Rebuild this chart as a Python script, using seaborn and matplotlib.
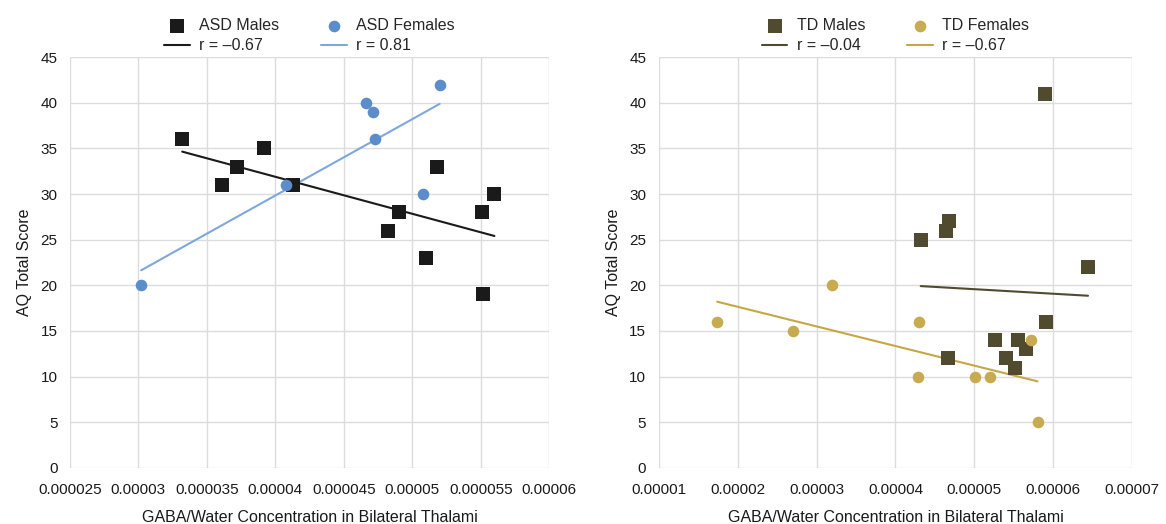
import seaborn as sns
import matplotlib.pyplot as plt

# ASD group (left panel)
asd_male_gaba = [0.0000332, 0.0000361, 0.0000372, 0.0000392, 0.0000413, 0.0000482,
                 0.0000490, 0.0000510, 0.0000518, 0.0000551, 0.0000552, 0.0000560]
asd_male_aq = [36, 31, 33, 35, 31, 26, 28, 23, 33, 28, 19, 30]
asd_female_gaba = [0.0000302, 0.0000408, 0.0000466, 0.0000471, 0.0000473, 0.0000508, 0.0000520]
asd_female_aq = [20, 31, 40, 39, 36, 30, 42]

# TD group (right panel)
td_male_gaba = [0.0000432, 0.0000464, 0.0000466, 0.0000468, 0.0000526, 0.0000540,
                0.0000552, 0.0000555, 0.0000566, 0.0000589, 0.0000591, 0.0000644]
td_male_aq = [25, 26, 12, 27, 14, 12, 11, 14, 13, 41, 16, 22]
td_female_gaba = [0.0000174, 0.0000270, 0.0000319, 0.0000428, 0.0000430, 0.0000501,
                  0.0000520, 0.0000572, 0.0000580]
td_female_aq = [16, 15, 20, 10, 16, 10, 10, 14, 5]

left_xticks = [0.000025, 0.00003, 0.000035, 0.00004, 0.000045, 0.00005, 0.000055, 0.00006]
left_xlabels = ['0.000025', '0.00003', '0.000035', '0.00004', '0.000045', '0.00005', '0.000055', '0.00006']
right_xticks = [0.00001, 0.00002, 0.00003, 0.00004, 0.00005, 0.00006, 0.00007]
right_xlabels = ['0.00001', '0.00002', '0.00003', '0.00004', '0.00005', '0.00006', '0.00007']
yticks = [0, 5, 10, 15, 20, 25, 30, 35, 40, 45]

sns.set_theme(style="whitegrid")
plt.rcParams['font.family'] = ['Liberation Sans', 'DejaVu Sans']

fig = plt.figure(figsize=(11.66, 5.24), dpi=100)
ax1 = fig.add_axes([0.060, 0.107, 0.411, 0.784])
ax2 = fig.add_axes([0.565, 0.107, 0.406, 0.784])


def panel(ax, mx, my, fx, fy, mcol, fcol, flinecol, names, rlabels, xticks, xlabels):
    sns.scatterplot(x=mx, y=my, ax=ax, marker='s', s=95, color=mcol, linewidth=0,
                    label=names[0], zorder=3)
    sns.scatterplot(x=fx, y=fy, ax=ax, marker='o', s=70, color=fcol, linewidth=0,
                    label=names[1], zorder=3)
    sns.regplot(x=mx, y=my, ax=ax, scatter=False, ci=None, color=mcol,
                line_kws={'linewidth': 1.5, 'zorder': 2}, label=rlabels[0])
    sns.regplot(x=fx, y=fy, ax=ax, scatter=False, ci=None, color=flinecol,
                line_kws={'linewidth': 1.5, 'zorder': 2}, label=rlabels[1])

    ax.set_xlim(xticks[0], xticks[-1])
    ax.set_ylim(0, 45)
    ax.set_xticks(xticks)
    ax.set_xticklabels(xlabels)
    ax.set_yticks(yticks)
    ax.tick_params(labelsize=11, length=0, colors='#1a1a1a')
    ax.tick_params(axis='x', pad=11)
    ax.tick_params(axis='y', pad=9)
    ax.grid(True, color='#dcdcdc', linewidth=1)
    for sp in ax.spines.values():
        sp.set_visible(False)
    ax.set_xlabel('GABA/Water Concentration in Bilateral Thalami', fontsize=11.5,
                  labelpad=9, color='#1a1a1a')
    ax.set_ylabel('AQ Total Score', fontsize=11.5, labelpad=6, color='#1a1a1a')

    h, l = ax.get_legend_handles_labels()
    order = [l.index(names[0]), l.index(rlabels[0]), l.index(names[1]), l.index(rlabels[1])]
    ax.legend([h[i] for i in order], [l[i] for i in order], ncol=2, frameon=False,
              loc='lower center', bbox_to_anchor=(0.5, 0.99), fontsize=11.5,
              handlelength=1.6, columnspacing=2.6, labelspacing=0.3,
              handletextpad=0.6, borderaxespad=0.1)


panel(ax1, asd_male_gaba, asd_male_aq, asd_female_gaba, asd_female_aq,
      '#1a1a1a', '#5b8dcb', '#7ea8dc', ['ASD Males', 'ASD Females'],
      ['r = \u20130.67', 'r = 0.81'], left_xticks, left_xlabels)
panel(ax2, td_male_gaba, td_male_aq, td_female_gaba, td_female_aq,
      '#504b2f', '#c8ab50', '#c4a845', ['TD Males', 'TD Females'],
      ['r = \u20130.04', 'r = \u20130.67'], right_xticks, right_xlabels)

fig.savefig('out.png', dpi=100, facecolor='white')
